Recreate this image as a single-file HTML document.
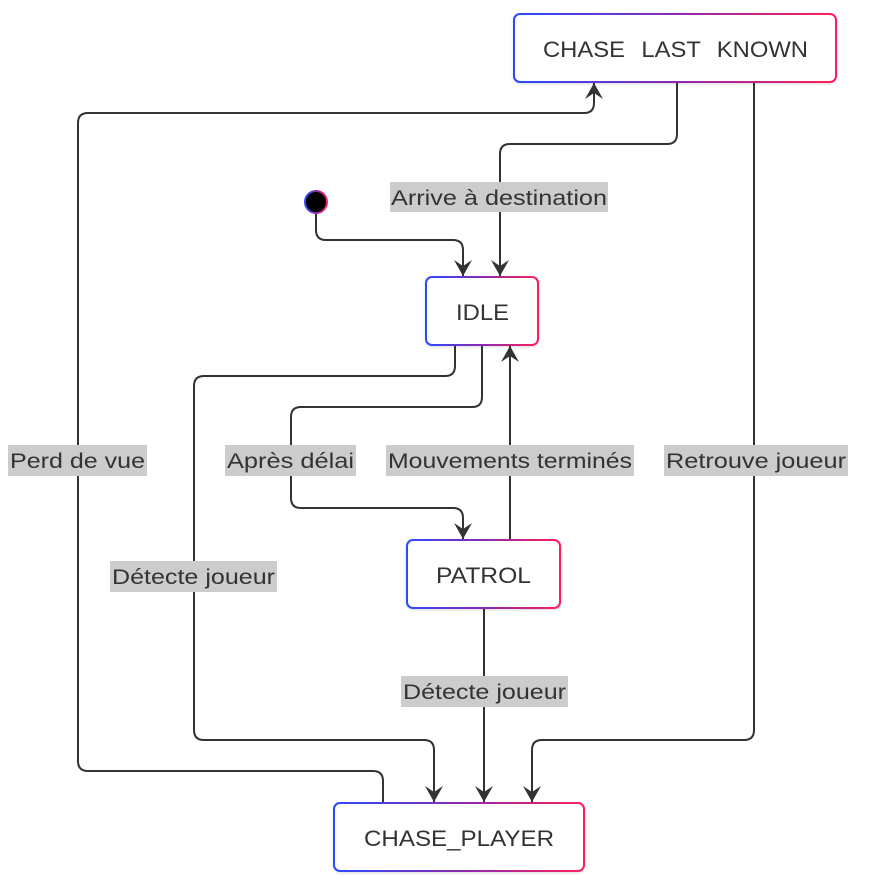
<!DOCTYPE html>
<html><head><meta charset="utf-8"><style>
html,body{margin:0;padding:0;background:#fff;}
svg{display:block;}
text{font-family:"Liberation Sans",Arial,sans-serif;}
</style></head><body>
<svg width="894" height="882" viewBox="0 0 894 882" xmlns="http://www.w3.org/2000/svg">
<defs>
<linearGradient id="g" x1="0" x2="1" y1="0" y2="0"><stop offset="0" stop-color="#2a4bff"/><stop offset="0.5" stop-color="#8a2bb0"/><stop offset="1" stop-color="#ff1f5a"/></linearGradient>
<marker id="a" markerWidth="16" markerHeight="18" refX="16" refY="9" orient="auto" markerUnits="userSpaceOnUse" viewBox="0 0 16 18">
<path d="M0,0 L16,9 L0,18 L6,9 Z" fill="#333"/></marker>
<filter id="s" x="-10%" y="-10%" width="120%" height="130%"><feDropShadow dx="0" dy="1" stdDeviation="1.2" flood-color="#000" flood-opacity="0.15"/></filter>
</defs>
<g fill="none" stroke="#333" stroke-width="2">
<path d="M316,214 V230 Q316,240 326,240 H453 Q463,240 463,250 V276" marker-end="url(#a)"/>
<path d="M677,82 V134 Q677,144 667,144 H510 Q500,144 500,154 V276" marker-end="url(#a)"/>
<path d="M455,345 V366 Q455,376 445,376 H204 Q194,376 194,386 V730 Q194,740 204,740 H424 Q434,740 434,750 V802" marker-end="url(#a)"/>
<path d="M482,345 V397 Q482,407 472,407 H301 Q291,407 291,417 V498 Q291,508 301,508 H453 Q463,508 463,518 V539" marker-end="url(#a)"/>
<path d="M510,540 V346" marker-end="url(#a)"/>
<path d="M484,608 V802" marker-end="url(#a)"/>
<path d="M754,82 V730 Q754,740 744,740 H542 Q532,740 532,750 V802" marker-end="url(#a)"/>
<path d="M383,803 V781 Q383,771 373,771 H88 Q78,771 78,761 V123 Q78,113 88,113 H584 Q594,113 594,103 V83" marker-end="url(#a)"/>
</g>
<circle cx="316" cy="202" r="11" fill="#000" stroke="url(#g)" stroke-width="2"/>
<g fill="#fff" stroke="url(#g)" stroke-width="2" filter="url(#s)">
<rect x="514" y="14" width="322" height="68" rx="6"/>
<rect x="426" y="277" width="112" height="68" rx="6"/>
<rect x="407" y="540" width="153" height="68" rx="6"/>
<rect x="334" y="803" width="250" height="68" rx="6"/>
</g>
<g fill="#333" font-size="22" font-family="Liberation Sans, Arial, sans-serif" lengthAdjust="spacingAndGlyphs">
<text x="543" y="57" textLength="265" lengthAdjust="spacingAndGlyphs" word-spacing="9">CHASE LAST KNOWN</text>
<text x="456" y="320" textLength="53" lengthAdjust="spacingAndGlyphs">IDLE</text>
<text x="436" y="583" textLength="95" lengthAdjust="spacingAndGlyphs">PATROL</text>
<text x="364" y="846" textLength="190" lengthAdjust="spacingAndGlyphs">CHASE_PLAYER</text>
</g>
<g fill="#ccc">
<rect x="390" y="182" width="218" height="30"/>
<rect x="110" y="561" width="167" height="31"/>
<rect x="225" y="445" width="131" height="31"/>
<rect x="386" y="445" width="248" height="31"/>
<rect x="401" y="676" width="167" height="31"/>
<rect x="664" y="445" width="184" height="31"/>
<rect x="8" y="445" width="139" height="31"/>
</g>
<g fill="#333" font-size="21" font-family="Liberation Sans, Arial, sans-serif">
<text x="391" y="205" textLength="216" lengthAdjust="spacingAndGlyphs">Arrive à destination</text>
<text x="112" y="584" textLength="163" lengthAdjust="spacingAndGlyphs">Détecte joueur</text>
<text x="227" y="468" textLength="127" lengthAdjust="spacingAndGlyphs">Après délai</text>
<text x="388" y="468" textLength="244" lengthAdjust="spacingAndGlyphs">Mouvements terminés</text>
<text x="403" y="699" textLength="163" lengthAdjust="spacingAndGlyphs">Détecte joueur</text>
<text x="666" y="468" textLength="180" lengthAdjust="spacingAndGlyphs">Retrouve joueur</text>
<text x="10" y="468" textLength="135" lengthAdjust="spacingAndGlyphs">Perd de vue</text>
</g>
</svg>
</body></html>
